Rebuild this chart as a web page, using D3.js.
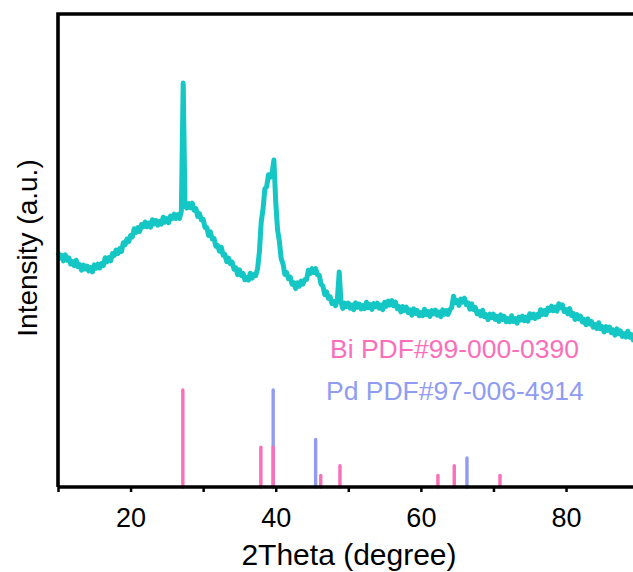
<!DOCTYPE html>
<html>
<head>
<meta charset="utf-8">
<script src="https://cdn.jsdelivr.net/npm/d3@7/dist/d3.min.js"></script>
<style>
    html, body { margin: 0; padding: 0; background: #fff; }
    svg { display: block; font-family: "Liberation Sans", Arial, sans-serif; }
</style>
</head>
<body>
<svg id="chart" width="633" height="572"></svg>
<script>
// XRD scan: 10-90 deg, 0.25 deg step
const scanStart = 10;
const scanStep = 0.25;
const counts = [
    2348, 2290, 2315, 2261, 2322, 2268, 2290, 2230, 2254, 2214, 2268, 2204, 2224, 2168, 2219, 2180,
    2208, 2160, 2195, 2152, 2222, 2188, 2230, 2190, 2234, 2216, 2293, 2252, 2294, 2261, 2334, 2317,
    2368, 2335, 2385, 2356, 2442, 2423, 2480, 2455, 2514, 2502, 2583, 2546, 2594, 2556, 2624, 2602,
    2648, 2603, 2640, 2599, 2672, 2630, 2665, 2618, 2654, 2629, 2698, 2649, 2684, 2644, 2709, 2684,
    2728, 2686, 2725, 2686, 2762, 4040, 2810, 2790, 2834, 2794, 2838, 2769, 2784, 2706, 2734, 2672,
    2678, 2596, 2595, 2516, 2552, 2480, 2485, 2408, 2414, 2359, 2398, 2319, 2324, 2254, 2289, 2234,
    2248, 2178, 2190, 2124, 2172, 2116, 2135, 2072, 2094, 2069, 2138, 2089, 2124, 2116, 2184, 2352,
    2648, 2778, 2980, 3004, 3122, 3098, 3140, 3270, 2854, 2574, 2458, 2284, 2234, 2126, 2144, 2082,
    2098, 2028, 2040, 1984, 2042, 2008, 2060, 2030, 2074, 2074, 2168, 2134, 2184, 2146, 2184, 2122,
    2118, 2028, 2010, 1924, 1952, 1888, 1900, 1835, 1854, 1814, 1883, 2150, 1844, 1786, 1839, 1804,
    1838, 1788, 1820, 1774, 1842, 1798, 1830, 1780, 1814, 1784, 1848, 1794, 1824, 1776, 1834, 1802,
    1838, 1788, 1820, 1774, 1847, 1808, 1860, 1820, 1864, 1814, 1848, 1784, 1804, 1751, 1804, 1767,
    1798, 1743, 1770, 1719, 1782, 1736, 1765, 1712, 1744, 1714, 1778, 1724, 1754, 1706, 1764, 1732,
    1768, 1718, 1750, 1704, 1772, 1728, 1765, 1725, 1774, 1794, 1908, 1844, 1864, 1816, 1879, 1850,
    1888, 1823, 1840, 1779, 1832, 1776, 1795, 1732, 1754, 1714, 1768, 1704, 1724, 1674, 1729, 1694,
    1728, 1676, 1705, 1656, 1722, 1676, 1705, 1652, 1684, 1652, 1713, 1656, 1684, 1638, 1699, 1670,
    1708, 1663, 1700, 1659, 1732, 1693, 1730, 1685, 1724, 1702, 1773, 1726, 1764, 1724, 1789, 1764,
    1808, 1763, 1800, 1759, 1832, 1793, 1820, 1755, 1774, 1732, 1783, 1716, 1734, 1676, 1724, 1682,
    1708, 1650, 1675, 1622, 1682, 1630, 1655, 1598, 1624, 1586, 1643, 1582, 1604, 1551, 1604, 1567,
    1598, 1543, 1570, 1519, 1582, 1533, 1560, 1505, 1534, 1499, 1558, 1499, 1524, 1471, 1524, 1487,
    1518
];

// Reference patterns (relative intensity)
const biAngles = [27.2, 37.95, 39.65, 46.2, 48.85, 62.35, 64.6, 70.9];
const biIntensity = [100, 41, 41, 12, 22, 12, 22, 12];
const pdAngles = [39.65, 45.5, 66.35];
const pdIntensity = [100, 49, 30];

const xTicks = [10, 20, 30, 40, 50, 60, 70, 80, 90];
const xTickLabels = ['', '20', '', '40', '', '60', '', '80', ''];

const curveColor = '#14c6c4';
const biColor = '#fb6fba';
const pdColor = '#8f9cf2';

const svg = d3.select('#chart');

const x = d3.scaleLinear().domain([10, 90]).range([58, 638.6]);
const y = d3.scaleLinear().domain([0, 4750]).range([487, 12]);
const yRef = d3.scaleLinear().domain([0, 100]).range([487, 390]);

const scan = counts.map((c, i) => ({ t: scanStart + i * scanStep, c: c }));

// Reference sticks: Pd first so Bi overlays where they coincide
const pd = pdAngles.map((a, i) => ({ a: a, h: pdIntensity[i] }));
const bi = biAngles.map((a, i) => ({ a: a, h: biIntensity[i] }));

svg.append('g').selectAll('line')
    .data(pd)
    .join('line')
    .attr('x1', d => x(d.a))
    .attr('x2', d => x(d.a))
    .attr('y1', yRef(0))
    .attr('y2', d => yRef(d.h))
    .attr('stroke', pdColor)
    .attr('stroke-width', 3.4)
    .attr('stroke-linecap', 'round');

svg.append('g').selectAll('line')
    .data(bi)
    .join('line')
    .attr('x1', d => x(d.a))
    .attr('x2', d => x(d.a))
    .attr('y1', yRef(0))
    .attr('y2', d => yRef(d.h))
    .attr('stroke', biColor)
    .attr('stroke-width', 3.4)
    .attr('stroke-linecap', 'round');

// XRD curve
const line = d3.line()
    .x(d => x(d.t))
    .y(d => y(d.c));

svg.append('path')
    .datum(scan)
    .attr('d', line)
    .attr('fill', 'none')
    .attr('stroke', curveColor)
    .attr('stroke-width', 5)
    .attr('stroke-linejoin', 'round');

// Frame
svg.append('path')
    .attr('d', `M${x(10)},${y(0)} V${y(4750) + 2} H640`)
    .attr('fill', 'none')
    .attr('stroke', '#000')
    .attr('stroke-width', 3.6);

// Bottom axis
const xAxis = d3.axisBottom(x)
    .tickValues(xTicks)
    .tickFormat((d, i) => xTickLabels[i])
    .tickSize(5)
    .tickPadding(16);

const gx = svg.append('g')
    .attr('transform', `translate(0,${y(0)})`)
    .call(xAxis);

gx.select('.domain')
    .attr('stroke-width', 3.6)
    .attr('d', `M${x(10)},0H640`);
gx.selectAll('.tick line').attr('stroke-width', 2.5);
gx.selectAll('.tick text')
    .attr('font-size', 27)
    .attr('font-family', '"Liberation Sans", Arial, sans-serif')
    .attr('fill', '#000');

// Axis titles
svg.append('text')
    .attr('x', 349)
    .attr('y', 565)
    .attr('text-anchor', 'middle')
    .attr('font-size', 30)
    .text('2Theta (degree)');

svg.append('text')
    .attr('transform', 'translate(37,248) rotate(-90)')
    .attr('text-anchor', 'middle')
    .attr('font-size', 28)
    .text('Intensity (a.u.)');

// Reference labels
svg.append('text')
    .attr('x', 330)
    .attr('y', 358)
    .attr('font-size', 26.5)
    .attr('fill', biColor)
    .text('Bi PDF#99-000-0390');

svg.append('text')
    .attr('x', 326)
    .attr('y', 400)
    .attr('font-size', 26.5)
    .attr('fill', pdColor)
    .text('Pd PDF#97-006-4914');
</script>
</body>
</html>
